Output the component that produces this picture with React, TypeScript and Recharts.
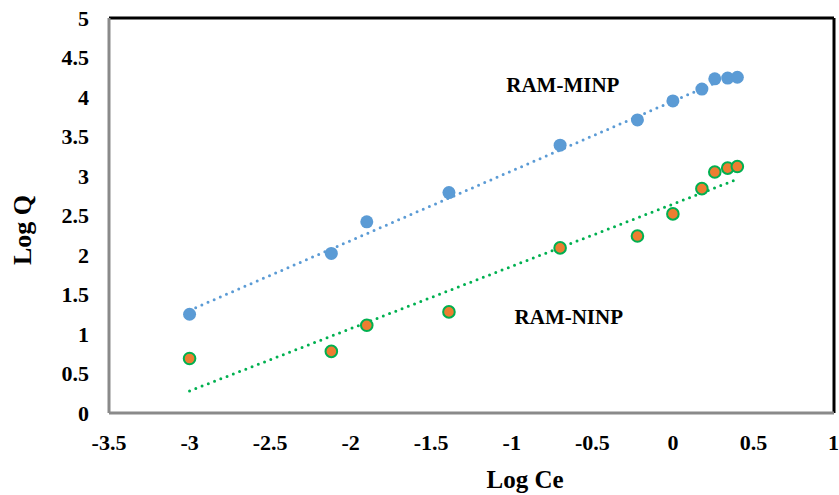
import {
  ComposedChart,
  Scatter,
  Line,
  XAxis,
  YAxis,
  ReferenceLine,
  ReferenceDot,
} from "recharts";

const FONT = "'Liberation Serif', 'Times New Roman', serif";

// Log Ce values shared by both series
const LOG_CE = [-3, -2.12, -1.9, -1.39, -0.7, -0.22, 0, 0.18, 0.26, 0.34, 0.4];
const MINP_LOGQ = [1.25, 2.02, 2.42, 2.79, 3.39, 3.71, 3.95, 4.1, 4.23, 4.24, 4.25];
const NINP_LOGQ = [0.69, 0.78, 1.11, 1.28, 2.09, 2.24, 2.52, 2.84, 3.05, 3.1, 3.12];

// linear trendline endpoints
const TREND_X = [-3, 0.4];
const MINP_TREND = [1.3, 4.3];
const NINP_TREND = [0.28, 2.96];

const X_TICKS = [-3.5, -3, -2.5, -2, -1.5, -1, -0.5, 0, 0.5, 1];
const Y_TICKS = [0, 0.5, 1, 1.5, 2, 2.5, 3, 3.5, 4, 4.5, 5];

const minpPoints = LOG_CE.map((x, i) => ({ x, y: MINP_LOGQ[i] }));
const ninpPoints = LOG_CE.map((x, i) => ({ x, y: NINP_LOGQ[i] }));
const minpTrend = TREND_X.map((x, i) => ({ x, y: MINP_TREND[i] }));
const ninpTrend = TREND_X.map((x, i) => ({ x, y: NINP_TREND[i] }));

const tickStyle = { fill: "#000", fontSize: 22, fontWeight: 700, fontFamily: FONT };

// eslint-disable-next-line @typescript-eslint/no-explicit-any
const BlueDot = (p: any) => <circle cx={p.cx} cy={p.cy} r={6.5} fill="#5B9BD5" />;
// eslint-disable-next-line @typescript-eslint/no-explicit-any
const OrangeDot = (p: any) => (
  <circle cx={p.cx} cy={p.cy} r={5.8} fill="#ED7D31" stroke="#00B050" strokeWidth={2} />
);

const fmt = (v: number) => String(v);

export default function App() {
  return (
    <div style={{ position: "absolute", left: 0, top: 0, background: "#fff" }}>
      <ComposedChart
        width={839}
        height={495}
        margin={{ top: 18, right: 5, bottom: 0, left: 0 }}
      >
        <XAxis
          dataKey="x"
          type="number"
          domain={[-3.5, 1]}
          ticks={X_TICKS}
          tickFormatter={fmt}
          allowDataOverflow
          height={82}
          tickLine={false}
          tickSize={0}
          tickMargin={21}
          tick={tickStyle}
          axisLine={{ stroke: "#8a8a8a", strokeWidth: 3 }}
          label={{
            content: () => (
              <text
                x={525}
                y={482}
                textAnchor="middle"
                dominantBaseline="middle"
                fontSize={25}
                fontWeight={700}
                fontFamily={FONT}
                fill="#000"
              >
                Log Ce
              </text>
            ),
          }}
        />
        <YAxis
          type="number"
          domain={[0, 5]}
          ticks={Y_TICKS}
          tickFormatter={fmt}
          allowDataOverflow
          width={109}
          tickLine={false}
          tickSize={0}
          tickMargin={20}
          tick={tickStyle}
          axisLine={{ stroke: "#8a8a8a", strokeWidth: 3 }}
          label={{
            content: () => (
              <text
                x={25}
                y={230}
                transform="rotate(-90 25 230)"
                textAnchor="middle"
                dominantBaseline="middle"
                fontSize={26}
                fontWeight={700}
                fontFamily={FONT}
                fill="#000"
              >
                Log Q
              </text>
            ),
          }}
        />
        <ReferenceLine y={5} stroke="#000" strokeWidth={3} />
        <ReferenceLine x={1} stroke="#000" strokeWidth={3} />

        <Line
          data={minpTrend}
          dataKey="y"
          stroke="#5B9BD5"
          strokeWidth={3}
          strokeDasharray="0 6.7"
          strokeLinecap="round"
          dot={false}
          activeDot={false}
          isAnimationActive={false}
        />
        <Line
          data={ninpTrend}
          dataKey="y"
          stroke="#00B050"
          strokeWidth={3}
          strokeDasharray="0 6.7"
          strokeLinecap="round"
          dot={false}
          activeDot={false}
          isAnimationActive={false}
        />
        <Scatter data={minpPoints} dataKey="y" shape={BlueDot} isAnimationActive={false} />
        <Scatter data={ninpPoints} dataKey="y" shape={OrangeDot} isAnimationActive={false} />

        <ReferenceDot
          x={-0.683}
          y={4.155}
          r={0}
          stroke="none"
          label={{
            value: "RAM-MINP",
            position: "center",
            fill: "#000",
            fontSize: 21,
            fontWeight: 700,
            fontFamily: FONT,
          }}
        />
        <ReferenceDot
          x={-0.646}
          y={1.22}
          r={0}
          stroke="none"
          label={{
            value: "RAM-NINP",
            position: "center",
            fill: "#000",
            fontSize: 21,
            fontWeight: 700,
            fontFamily: FONT,
          }}
        />
      </ComposedChart>
    </div>
  );
}
